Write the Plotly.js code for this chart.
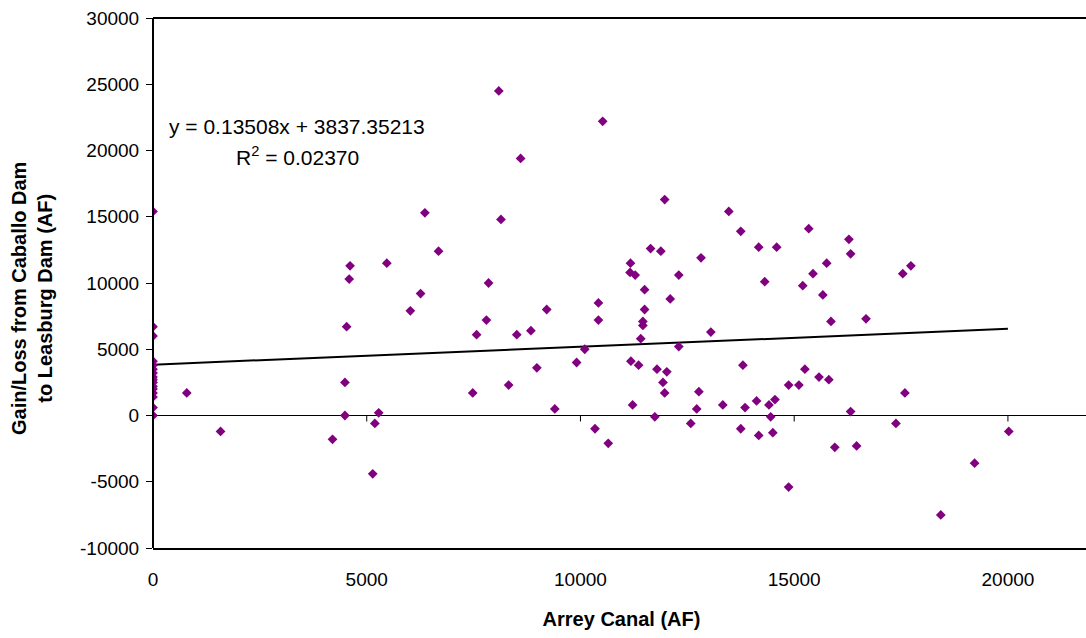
<!DOCTYPE html>
<html>
<head>
<meta charset="utf-8">
<script src="https://cdn.plot.ly/plotly-3.0.1.min.js"></script>
<style>html,body{margin:0;padding:0;background:#fff;overflow:hidden;width:1086px;height:638px;}#chart{width:1090px;height:638px;}</style>
</head>
<body>
<div id="chart"></div>
<script>
// Arrey Canal (AF)
const arreyCanal = [
  0, 0, 0, 0, 0, 0, 0, 0, 0, 0, 0, 0, 0, 0, 0, 0,
  790, 1580, 4200, 4490, 4490, 4530, 4590, 4610, 5140, 5190, 5280, 5470,
  6020, 6260, 6360, 6680, 7480, 7570, 7800, 7850, 8090, 8140, 8320, 8510,
  8600, 8840, 8980, 9210, 9400, 9910, 10100, 10340, 10420, 10420, 10520, 10650,
  11170, 11160, 11280, 11180, 11220, 11360, 11410, 11460, 11460, 11500, 11500, 11640,
  11880, 11740, 11790, 11930, 11970, 11970, 12020, 12100, 12300, 12300, 12580, 12720,
  12770, 12820, 13050, 13330, 13470, 13750, 13750, 13800, 13850, 14120, 14170, 14170,
  14310, 14410, 14450, 14500, 14550, 14590, 14870, 14870, 15110, 15200, 15250, 15340,
  15440, 15580, 15670, 15760, 15810, 15860, 15950, 16280, 16320, 16320, 16460, 16680,
  17380, 17540, 17590, 17730, 18430, 19220, 20020
];
// Gain/Loss from Caballo Dam to Leasburg Dam (AF)
const gainLoss = [
  15400, 6700, 6000, 4100, 3800, 3500, 3200, 2900, 2700, 2500, 2200, 2000, 1700, 1400, 600, 0,
  1700, -1200, -1800, 2500, 0, 6700, 10300, 11300, -4400, -600, 200, 11500,
  7900, 9200, 15300, 12400, 1700, 6100, 7200, 10000, 24500, 14800, 2300, 6100,
  19400, 6400, 3600, 8000, 500, 4000, 5000, -1000, 8500, 7200, 22200, -2100,
  11500, 10800, 10600, 4100, 800, 3800, 5800, 7100, 6800, 9500, 8000, 12600,
  12400, -100, 3500, 2500, 1700, 16300, 3300, 8800, 10600, 5200, -600, 500,
  1800, 11900, 6300, 800, 15400, 13900, -1000, 3800, 600, 1100, 12700, -1500,
  10100, 800, -100, -1300, 1200, 12700, 2300, -5400, 2300, 9800, 3500, 14100,
  10700, 2900, 9100, 11500, 2700, 7100, -2400, 13300, 12200, 300, -2300, 7300,
  -600, 10700, 1700, 11300, -7500, -3600, -1200
];
// Linear trendline (as given on the chart)
const trendSlope = 0.13508;
const trendIntercept = 3837.35213;
const trendX = [0, 20000];
const trendY = trendX.map(x => trendSlope * x + trendIntercept);

const xTickVals = [0, 5000, 10000, 15000, 20000];
const xTickText = ['0', '5000', '10000', '15000', '20000'];
const zeroLineTickVals = [5000, 10000, 15000, 20000];
const yTickVals = [-10000, -5000, 0, 5000, 10000, 15000, 20000, 25000, 30000];
const yTickText = ['-10000', '-5000', '0', '5000', '10000', '15000', '20000', '25000', '30000'];
const eqLine1 = 'y = 0.13508x + 3837.35213';
const eqLine2 = 'R<sup>2</sup> = 0.02370';

const font = 'Arial, "Liberation Sans", sans-serif';

const traces = [
  {
    x: trendX, y: trendY,
    mode: 'lines', line: {color: '#000000', width: 2},
    hoverinfo: 'skip', showlegend: false
  },
  {
    x: arreyCanal, y: gainLoss,
    mode: 'markers', type: 'scatter',
    marker: {symbol: 'diamond', size: 7.5, color: '#800080'},
    showlegend: false
  }
];

// small tick marks hanging below the y = 0 line at each x tick
const shapes = zeroLineTickVals.map(v => ({
  type: 'line', xref: 'x', yref: 'y', ysizemode: 'pixel', yanchor: 0,
  x0: v, x1: v, y0: 0, y1: -6,
  line: {color: '#000000', width: 1}, layer: 'above'
}));
// plot-area frame: top and left edges
shapes.push({
  type: 'line', xref: 'paper', yref: 'paper', x0: 0, x1: 1, y0: 1, y1: 1,
  line: {color: '#000000', width: 2}, layer: 'above'
});
shapes.push({
  type: 'line', xref: 'paper', yref: 'paper', x0: 0, x1: 0, y0: 0, y1: 1,
  line: {color: '#000000', width: 2}, layer: 'above'
});

// the plot area runs on past the right edge of the 1086 px window, as in the reference
const layout = {
  width: 1090, height: 638,
  margin: {l: 153, r: 0, t: 18, b: 90},
  paper_bgcolor: '#ffffff', plot_bgcolor: '#ffffff',
  font: {family: font, color: '#000000', size: 19},
  showlegend: false,
  xaxis: {
    range: [0, 21920], tickvals: xTickVals, ticktext: xTickText,
    ticks: '', showgrid: false, zeroline: false,
    showline: true, linecolor: '#000000', linewidth: 2, mirror: false,
    tickfont: {family: font, size: 19},
    ticklabelstandoff: 13,
    title: {text: '<b>Arrey Canal (AF)</b>', font: {family: font, size: 20}, standoff: 23}
  },
  yaxis: {
    range: [-10000, 30000], tickvals: yTickVals, ticktext: yTickText,
    ticks: 'outside', ticklen: 6, tickwidth: 1, tickcolor: '#000000',
    showgrid: false, zeroline: true, zerolinecolor: '#000000', zerolinewidth: 1,
    showline: false, mirror: false,
    tickfont: {family: font, size: 19},
    ticklabelstandoff: 3
  },
  shapes: shapes,
  annotations: [
    {
      xref: 'paper', yref: 'paper', x: (32 - 153) / 937, y: (548 - 298) / 530,
      xanchor: 'center', yanchor: 'middle', textangle: -90, showarrow: false,
      text: '<b>Gain/Loss from Caballo Dam<br>to Leasburg Dam (AF)</b>',
      font: {family: font, size: 20}
    },
    {
      xref: 'paper', yref: 'paper', x: (297 - 153) / 937, y: (548 - 127) / 530,
      xanchor: 'center', yanchor: 'middle', showarrow: false,
      text: eqLine1, font: {family: font, size: 21}
    },
    {
      xref: 'paper', yref: 'paper', x: (297 - 153) / 937, y: (548 - 156) / 530,
      xanchor: 'center', yanchor: 'middle', showarrow: false,
      text: eqLine2, font: {family: font, size: 21}
    }
  ]
};

Plotly.newPlot('chart', traces, layout, {staticPlot: true, displayModeBar: false});
</script>
</body>
</html>
